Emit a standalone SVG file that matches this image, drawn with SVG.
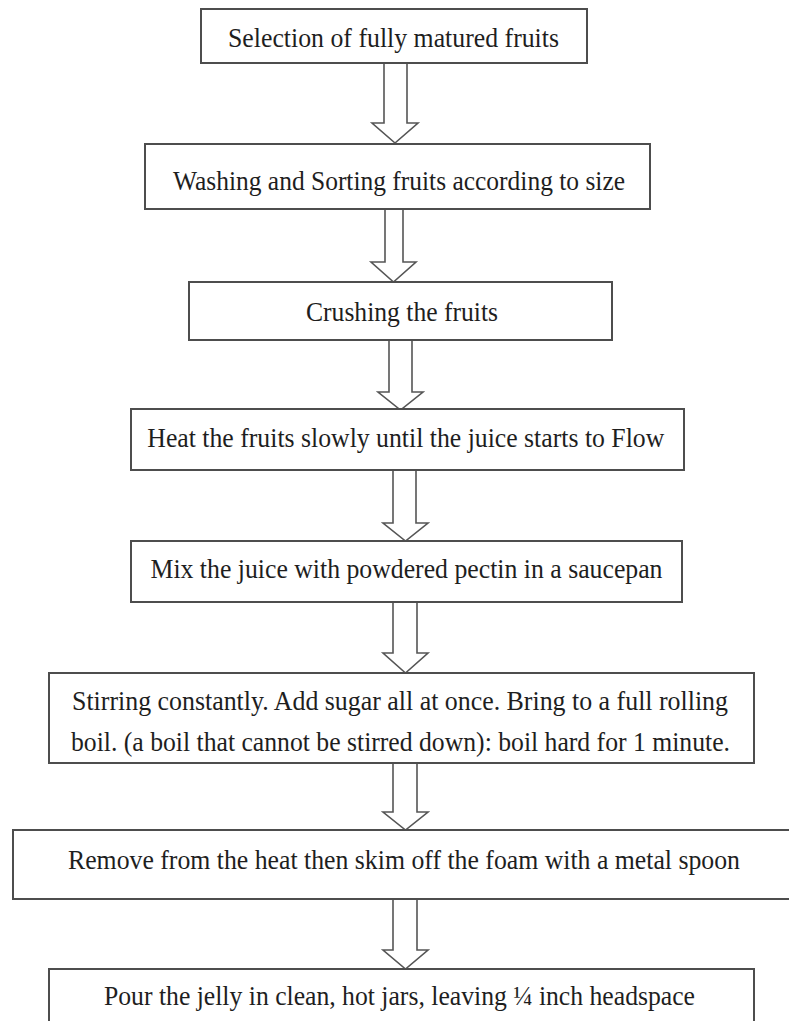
<svg xmlns="http://www.w3.org/2000/svg" width="789" height="1021" viewBox="0 0 789 1021">
<style>
.box{fill:#fff;stroke:#4d4d4d;stroke-width:2}
.arr{fill:#fff;stroke:#555;stroke-width:1.6;stroke-linejoin:miter}
.t{font-family:'Liberation Serif','DejaVu Serif',serif;font-size:27px;fill:#1e1e1e;text-anchor:middle}
</style>
<rect width="789" height="1021" fill="#fff"/>
<g id="connectors">
<path class="arr" d="M384,63 V123 H372 L395,143 L418,123 H407 V63 Z"/>
<path class="arr" d="M385,209 V262 H371 L393.5,282 L416,262 H403 V209 Z"/>
<path class="arr" d="M389,340 V392 H378 L400.5,410 L423,392 H412 V340 Z"/>
<path class="arr" d="M393,470 V523 H383 L405.5,541 L428,523 H416 V470 Z"/>
<path class="arr" d="M393,602 V653 H383 L405.5,673 L428,653 H417 V602 Z"/>
<path class="arr" d="M393,763 V812 H383 L405.5,830 L428,812 H417 V763 Z"/>
<path class="arr" d="M393,899 V950 H383 L405.5,969 L428,950 H417 V899 Z"/>
</g>
<g id="n1"><rect class="box" x="201" y="9" width="386" height="54"/><text class="t" x="393.5" y="47" textLength="331" lengthAdjust="spacingAndGlyphs">Selection of fully matured fruits</text></g>
<g id="n2"><rect class="box" x="145" y="144" width="505" height="65"/><text class="t" x="399" y="190" textLength="452" lengthAdjust="spacingAndGlyphs">Washing and Sorting fruits according to size</text></g>
<g id="n3"><rect class="box" x="189" y="282" width="423" height="58"/><text class="t" x="402" y="321" textLength="192" lengthAdjust="spacingAndGlyphs">Crushing the fruits</text></g>
<g id="n4"><rect class="box" x="131" y="409" width="553" height="61"/><text class="t" x="405.8" y="447" textLength="517" lengthAdjust="spacingAndGlyphs">Heat the fruits slowly until the juice starts to Flow</text></g>
<g id="n5"><rect class="box" x="131" y="541" width="551" height="61"/><text class="t" x="406.5" y="578" textLength="512" lengthAdjust="spacingAndGlyphs">Mix the juice with powdered pectin in a saucepan</text></g>
<g id="n6"><rect class="box" x="49" y="673" width="705" height="90"/><text class="t" x="400" y="710" textLength="656" lengthAdjust="spacingAndGlyphs">Stirring constantly. Add sugar all at once. Bring to a full rolling</text><text class="t" x="400.5" y="751" textLength="659" lengthAdjust="spacingAndGlyphs">boil. (a boil that cannot be stirred down): boil hard for 1 minute.</text></g>
<g id="n7"><rect class="box" x="13" y="830" width="790" height="69"/><text class="t" x="404" y="869" textLength="672" lengthAdjust="spacingAndGlyphs">Remove from the heat then skim off the foam with a metal spoon</text></g>
<g id="n8"><rect class="box" x="49" y="969" width="705" height="70"/><text class="t" x="399.5" y="1005" textLength="591" lengthAdjust="spacingAndGlyphs">Pour the jelly in clean, hot jars, leaving ¼ inch headspace</text></g>
</svg>
